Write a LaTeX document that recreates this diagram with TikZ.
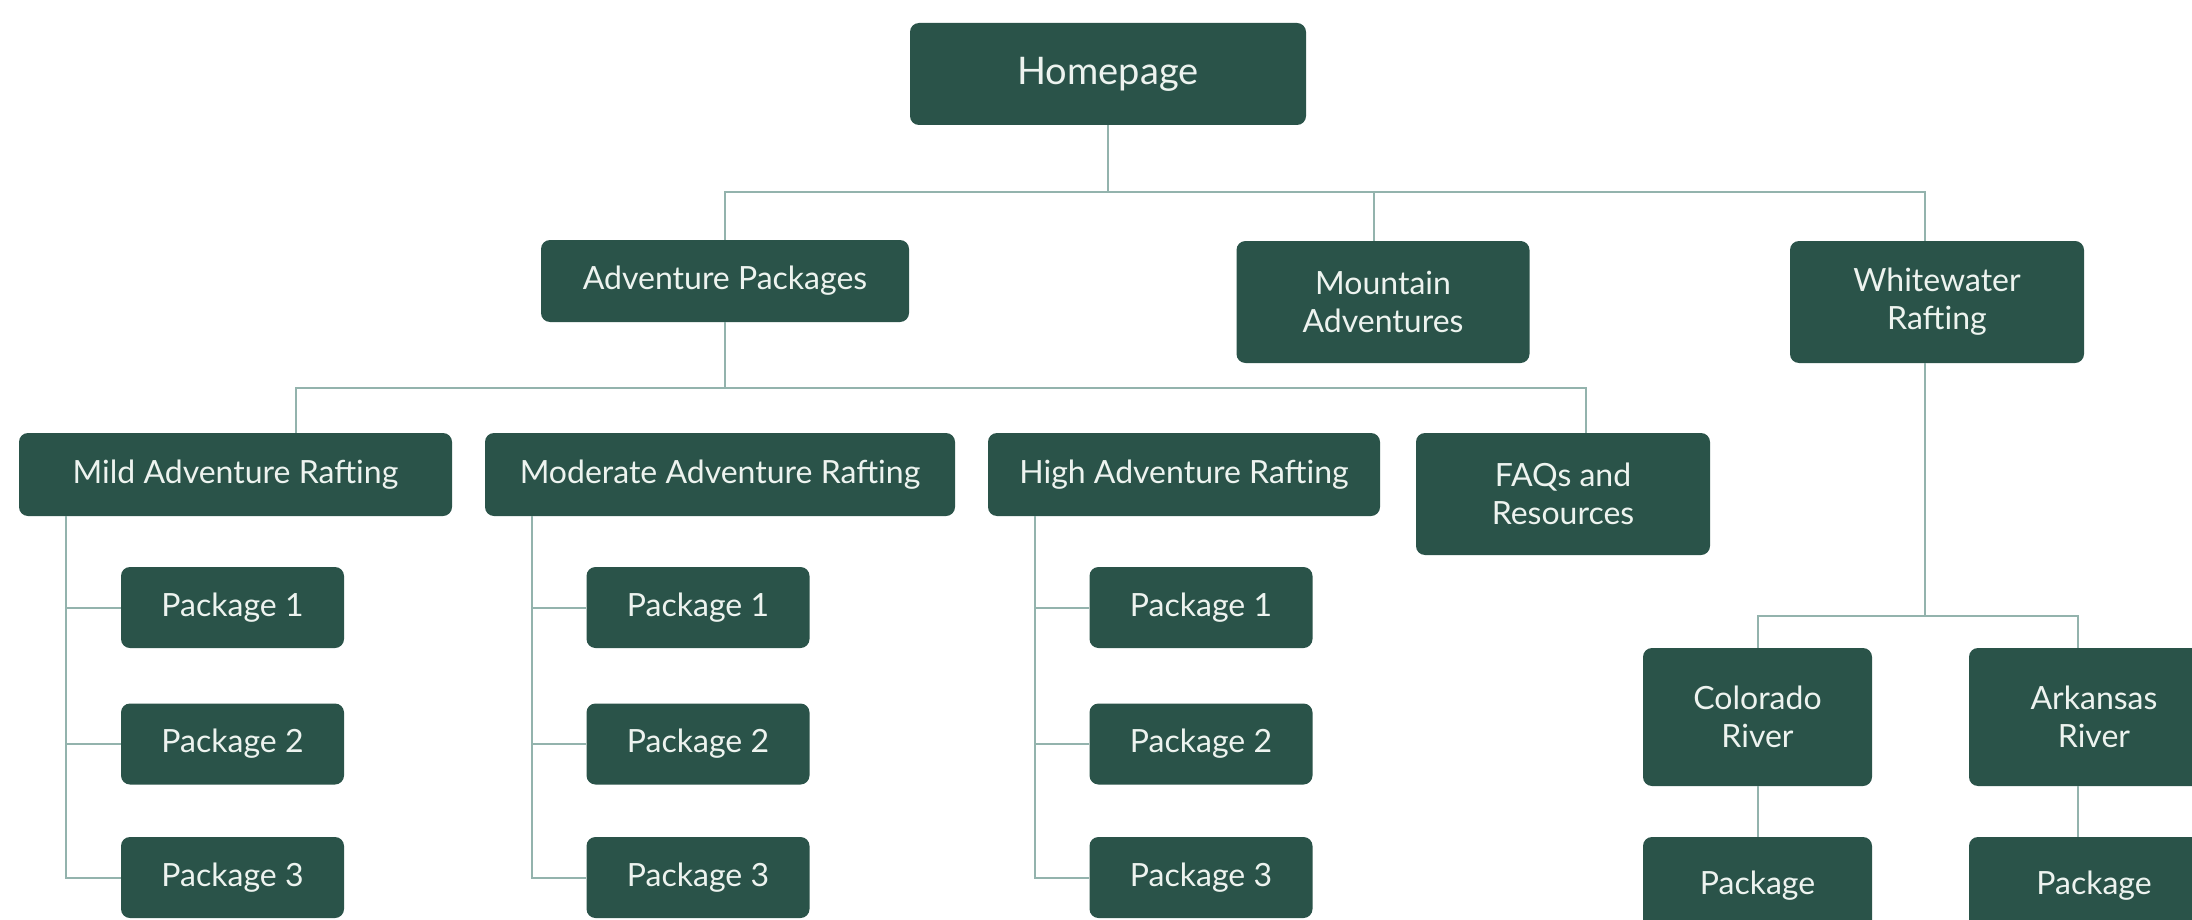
\documentclass[tikz,border=0pt]{standalone}
\usepackage{fontspec}
\setmainfont{Lato}
\usepackage{xcolor}
\usepackage{tikz}
\definecolor{boxgreen}{HTML}{2A5349}
\definecolor{boxtext}{HTML}{EDF3EF}
\definecolor{linkgray}{HTML}{93B3AD}
\tikzset{
  sitebox/.style={fill=boxgreen, text=boxtext, rounded corners=9pt, inner sep=0, align=center, font=\fontsize{32}{38}\selectfont},
  pkgbox/.style={sitebox, minimum width=223pt, minimum height=81pt},
  link/.style={draw=linkgray, line width=2pt}
}

\begin{document}
\begin{tikzpicture}[x=1pt, y=-1pt]
  \clip (0,0) rectangle (2192,920);
  \fill[white] (0,0) rectangle (2192,920);
  \coordinate (bus1) at (0,192);
  \coordinate (bus2) at (0,388);
  \coordinate (bus3) at (0,616);

  \node[sitebox, minimum width=396pt, minimum height=102pt, font=\fontsize{38}{44}\selectfont] (home) at (1108,74) {Homepage};
  \node[sitebox, minimum width=368pt, minimum height=82pt] (advpkg) at (725,281) {Adventure Packages};
  \node[sitebox, minimum width=293pt, minimum height=122pt] (mountain) at (1383,302) {Mountain\\Adventures};
  \node[sitebox, minimum width=294pt, minimum height=122pt] (whitewater) at (1937,302) {Whitewater\\Rafting};

  \node[sitebox, minimum width=433pt, minimum height=83pt] (mild) at (235.5,474.5) {Mild Adventure Rafting};
  \node[sitebox, minimum width=470pt, minimum height=83pt] (moderate) at (720,474.5) {Moderate Adventure Rafting};
  \node[sitebox, minimum width=392pt, minimum height=83pt] (high) at (1184,474.5) {High Adventure Rafting};
  \node[sitebox, minimum width=294pt, minimum height=122pt] (faq) at (1563,494) {FAQs and\\Resources};

  \node[pkgbox] (mild1) at (232.5,607.5) {Package 1};
  \node[pkgbox] (mild2) at (232.5,744) {Package 2};
  \node[pkgbox] (mild3) at (232.5,877.5) {Package 3};
  \node[pkgbox] (moderate1) at (698,607.5) {Package 1};
  \node[pkgbox] (moderate2) at (698,744) {Package 2};
  \node[pkgbox] (moderate3) at (698,877.5) {Package 3};
  \node[pkgbox] (high1) at (1201,607.5) {Package 1};
  \node[pkgbox] (high2) at (1201,744) {Package 2};
  \node[pkgbox] (high3) at (1201,877.5) {Package 3};

  \node[sitebox, minimum width=229pt, minimum height=138pt] (colorado) at (1757.5,717) {Colorado\\River};
  \node[sitebox, minimum width=250pt, minimum height=138pt] (arkansas) at (2094,717) {Arkansas\\River};
  \node[sitebox, minimum width=229pt, minimum height=98pt] (colopkg) at (1757.5,886) {Package};
  \node[sitebox, minimum width=250pt, minimum height=98pt] (arkpkg) at (2094,886) {Package};

  \draw[link] (home.south) -- (home.south |- bus1);
  \draw[link] (advpkg.north) -- (advpkg.north |- bus1) -| ([xshift=-12pt]whitewater.north);
  \draw[link] ([xshift=-9pt]mountain.north) -- ([xshift=-9pt]mountain.north |- bus1);

  \draw[link] (advpkg.south) -- (advpkg.south |- bus2);
  \draw[link] ([xshift=60pt]mild.north) -- ([xshift=60pt]mild.north |- bus2) -| ([xshift=23pt]faq.north);

  \draw[link] ([xshift=47pt]mild.south west) |- (mild3.west);
  \draw[link] (mild1.west) -- ++(-55,0);
  \draw[link] (mild2.west) -- ++(-55,0);
  \draw[link] ([xshift=47pt]moderate.south west) |- (moderate3.west);
  \draw[link] (moderate1.west) -- ++(-55,0);
  \draw[link] (moderate2.west) -- ++(-55,0);
  \draw[link] ([xshift=47pt]high.south west) |- (high3.west);
  \draw[link] (high1.west) -- ++(-55,0);
  \draw[link] (high2.west) -- ++(-55,0);

  \draw[link] ([xshift=-12pt]whitewater.south) -- ([xshift=-12pt]whitewater.south |- bus3);
  \draw[link] (colorado.north) -- (colorado.north |- bus3) -| ([xshift=-16pt]arkansas.north);
  \draw[link] (colorado.south) -- (colopkg.north);
  \draw[link] ([xshift=-16pt]arkansas.south) -- ([xshift=-16pt]arkpkg.north);
\end{tikzpicture}
\end{document}
